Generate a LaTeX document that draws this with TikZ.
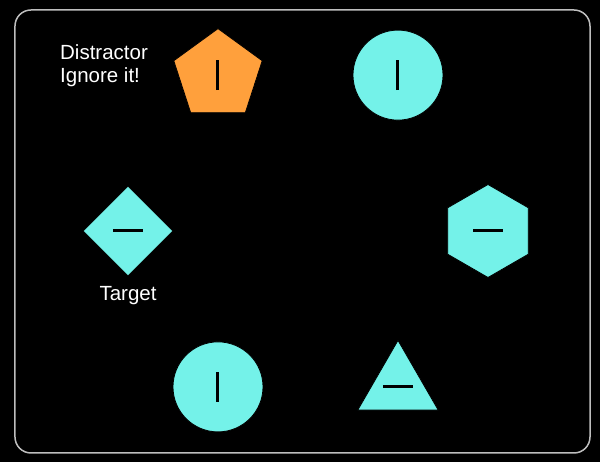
\documentclass[tikz,border=0pt]{standalone}
\usepackage{fontspec}
\setmainfont{Liberation Sans}
\usepackage{xcolor}
\usetikzlibrary{calc, math}
\usetikzlibrary{shapes.geometric}
\definecolor{myorange}{RGB}{255,160,60}
\definecolor{mycyan}{RGB}{116,242,233}
\definecolor{myframe}{RGB}{190,190,190}
\tikzset{
item/.style={draw=black, line width=0.8, fill=mycyan, inner sep=0, minimum size=2*\Ri},
poly/.style={regular polygon, regular polygon sides=#1, item, minimum size=2*\Ri+3},
bar/.style={line width=3, black},
hint/.style={text=white, inner sep=0, font=\fontsize{20.5}{23}\selectfont},
}

\begin{document}
\begin{tikzpicture}[x=1pt,y=1pt]
\tikzmath{
\Ro=180;%radius of the ring
\Ri=45;%size of one shape
\hb=15;%half bar
}
\useasboundingbox (-308,-231) rectangle (292,231);
\fill[black] (-308,-231) rectangle (292,231);
\draw[myframe, line width=1.5, rounded corners=16] (-293,-222) rectangle (282,221);

%shapes on the ring
\node[poly=5, fill=myorange] (pent) at (120:\Ro) {};
\node[circle, item] (circA) at (60:\Ro) {};
\node[poly=6, shape border rotate=30] (hex) at (0:\Ro) {};
\node[poly=3] (tri) at (300:\Ro) {};
\node[circle, item] (circB) at (240:\Ro) {};
\node[diamond, item] (tgt) at (180:\Ro) {};

%bars
\draw[bar] ($(pent)+(0,-\hb)$) -- ($(pent)+(0,\hb)$);
\draw[bar] ($(circA)+(0,-\hb)$) -- ($(circA)+(0,\hb)$);
\draw[bar] ($(circB)+(0,-\hb)$) -- ($(circB)+(0,\hb)$);
\draw[bar] ($(hex)+(-\hb,0)$) -- ($(hex)+(\hb,0)$);
\draw[bar] ($(tri)+(-\hb,0)$) -- ($(tri)+(\hb,0)$);
\draw[bar] ($(tgt)+(-\hb,0)$) -- ($(tgt)+(\hb,0)$);

\node[hint, anchor=base west, align=left] (dis) at (-248,148) {Distractor\\Ignore it!};
\node[hint, anchor=base] (tgtlab) at (-180,-70) {Target};
\end{tikzpicture}
\end{document}
